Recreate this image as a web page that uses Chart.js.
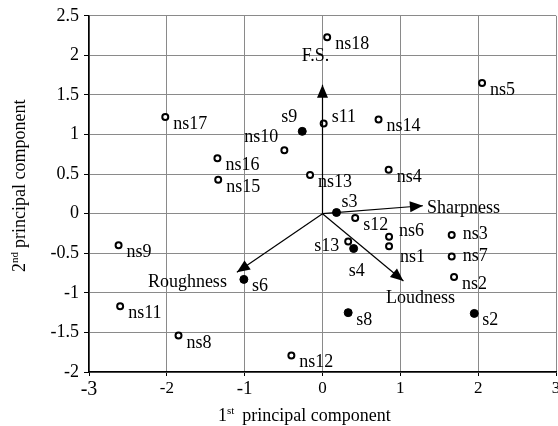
<!DOCTYPE html>
<html>
<head>
<meta charset="utf-8">
<script src="https://cdn.jsdelivr.net/npm/chart.js@4/dist/chart.umd.min.js"></script>
<style>
  html, body { margin: 0; padding: 0; overflow: hidden; background: #fff; }
  #wrap { width: 566px; height: 426px; }
</style>
</head>
<body>
<div id="wrap"><canvas id="pca"></canvas></div>
<script>
// scores: filled markers
const filledNames = ["s9", "s3", "s4", "s6", "s8", "s2"];
const filledX = [-0.26, 0.18, 0.40, -1.01, 0.33, 1.95];
const filledY = [1.04, 0.015, -0.44, -0.83, -1.25, -1.26];

// scores: open markers
const openNames = ["ns17", "ns16", "ns15", "ns10", "ns18", "ns5", "s11", "ns14", "ns13", "ns4",
  "s12", "ns6", "ns1", "s13", "ns3", "ns7", "ns2", "ns12", "ns9", "ns11", "ns8"];
const openX = [-2.02, -1.35, -1.34, -0.49, 0.06, 2.05, 0.015, 0.72, -0.16, 0.85,
  0.42, 0.855, 0.855, 0.33, 1.66, 1.66, 1.69, -0.40, -2.62, -2.60, -1.85];
const openY = [1.22, 0.70, 0.43, 0.80, 2.23, 1.65, 1.14, 1.19, 0.49, 0.555,
  -0.056, -0.29, -0.41, -0.35, -0.27, -0.54, -0.80, -1.79, -0.40, -1.17, -1.54];

// loading vectors
const vectorNames = ["F.S.", "Sharpness", "Loudness", "Roughness"];
const vectorX = [0, 1.29, 1.04, -1.10];
const vectorY = [1.63, 0.10, -0.85, -0.74];

const xTicks = [-3, -2, -1, 0, 1, 2, 3];
const yTicks = [-2, -1.5, -1, -0.5, 0, 0.5, 1, 1.5, 2, 2.5];

const SERIF = "'Liberation Serif', 'Times New Roman', serif";

// label placement: [align, dx, dy] in pixels from the point (baseline)
const labelPlace = {
  "ns10": ["right", -6, -8],
  "s9": ["right", -5, -9],
  "s11": ["left", 8, -1],
  "s3": ["left", 5, -6],
  "ns6": ["left", 10, -1],
  "ns1": ["left", 11, 16],
  "s13": ["right", -9, 10],
  "s4": ["center", 3, 27],
  "ns3": ["left", 11, 4],
  "ns7": ["left", 11, 5],
  "F.S.": ["center", -7, -24],
  "Sharpness": ["left", 4, 7],
  "Loudness": ["center", 17, 22],
  "Roughness": ["right", -10, 15]
};

function pts(xs, ys) {
  return xs.map((x, i) => ({ x: x, y: ys[i] }));
}

const datasets = [];
vectorNames.forEach((name, i) => {
  datasets.push({
    label: name,
    data: [{ x: 0, y: 0 }, { x: vectorX[i], y: vectorY[i] }],
    showLine: true,
    borderColor: "#000",
    borderWidth: 1.2,
    pointRadius: 0
  });
});
datasets.push({
  label: "open",
  data: pts(openX, openY),
  pointRadius: 3,
  pointBorderWidth: 2,
  pointBackgroundColor: "#fff",
  pointBorderColor: "#000"
});
datasets.push({
  label: "filled",
  data: pts(filledX, filledY),
  pointRadius: 4,
  pointBorderWidth: 1,
  pointBackgroundColor: "#000",
  pointBorderColor: "#000"
});

/** Arrow heads, point labels and axis titles */
const annotate = {
  id: "annotate",
  afterDatasetsDraw(chart) {
    const ctx = chart.ctx;
    const xs = chart.scales.x, ys = chart.scales.y;
    const ox = xs.getPixelForValue(0), oy = ys.getPixelForValue(0);
    ctx.save();
    ctx.fillStyle = "#000";

    // arrow heads
    vectorNames.forEach((name, i) => {
      const tx = xs.getPixelForValue(vectorX[i]);
      const ty = ys.getPixelForValue(vectorY[i]);
      const a = Math.atan2(ty - oy, tx - ox);
      const len = 13, half = 5.5;
      const bx = tx - len * Math.cos(a), by = ty - len * Math.sin(a);
      ctx.beginPath();
      ctx.moveTo(tx, ty);
      ctx.lineTo(bx + half * Math.sin(a), by - half * Math.cos(a));
      ctx.lineTo(bx - half * Math.sin(a), by + half * Math.cos(a));
      ctx.closePath();
      ctx.fill();
    });

    // labels
    ctx.font = "18px " + SERIF;
    ctx.textBaseline = "alphabetic";
    const put = (name, x, y) => {
      const p = labelPlace[name] || ["left", 8, 12];
      ctx.textAlign = p[0];
      ctx.fillText(name, xs.getPixelForValue(x) + p[1], ys.getPixelForValue(y) + p[2]);
    };
    openNames.forEach((n, i) => put(n, openX[i], openY[i]));
    filledNames.forEach((n, i) => put(n, filledX[i], filledY[i]));
    vectorNames.forEach((n, i) => put(n, vectorX[i], vectorY[i]));
    ctx.restore();
  },
  afterDraw(chart) {
    const ctx = chart.ctx;
    ctx.save();
    ctx.fillStyle = "#000";
    ctx.textAlign = "left";
    ctx.textBaseline = "alphabetic";

    // x title: 1st principal component
    let x = 218;
    ctx.font = "18px " + SERIF;
    ctx.fillText("1", x, 421);
    x += ctx.measureText("1").width;
    ctx.font = "11px " + SERIF;
    ctx.fillText("st", x, 414);
    x += ctx.measureText("st").width + 8;
    ctx.font = "18px " + SERIF;
    ctx.fillText("principal component", x, 421);

    // y title: 2nd principal component
    ctx.translate(25, 272);
    ctx.rotate(-Math.PI / 2);
    x = 0;
    ctx.fillText("2", x, 0);
    x += ctx.measureText("2").width;
    ctx.font = "11px " + SERIF;
    ctx.fillText("nd", x, -7);
    x += ctx.measureText("nd").width + 4;
    ctx.font = "18px " + SERIF;
    ctx.fillText("principal component", x, 0);
    ctx.restore();
  }
};

new Chart(document.getElementById("pca"), {
  type: "scatter",
  data: { datasets: datasets },
  options: {
    responsive: true,
    maintainAspectRatio: false,
    animation: false,
    events: [],
    layout: { padding: { top: 11, right: 10, left: 0, bottom: 0 } },
    plugins: {
      legend: { display: false },
      tooltip: { enabled: false }
    },
    scales: {
      x: {
        type: "linear",
        min: -3,
        max: 3,
        afterBuildTicks: s => { s.ticks = xTicks.map(v => ({ value: v })); },
        afterFit: s => { s.height = 54; },
        grid: { color: "#8a8a8a", lineWidth: 1, tickColor: "#000", tickLength: 4 },
        border: { display: true, color: "#000", width: 1.5 },
        ticks: {
          color: "#000",
          padding: 2,
          maxRotation: 0,
          callback: v => String(v),
          font: c => ({
            family: SERIF,
            size: c.tick && c.tick.value === -3 ? 20 : (c.tick && c.tick.value === -1 ? 19 : 17)
          })
        }
      },
      y: {
        type: "linear",
        min: -2,
        max: 2.5,
        afterBuildTicks: s => { s.ticks = yTicks.map(v => ({ value: v })); },
        afterFit: s => { s.width = 89; },
        grid: { color: "#8a8a8a", lineWidth: 1, tickColor: "#000", tickLength: 5 },
        border: { display: true, color: "#000", width: 1.5 },
        ticks: {
          color: "#000",
          padding: 5,
          callback: v => String(v),
          font: { family: SERIF, size: 18 }
        }
      }
    }
  },
  plugins: [annotate]
});
</script>
</body>
</html>
